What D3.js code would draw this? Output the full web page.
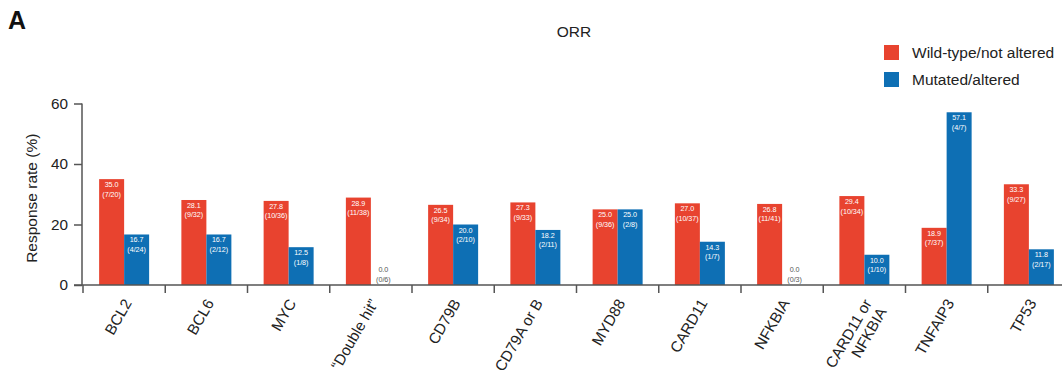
<!DOCTYPE html>
<html>
<head>
<meta charset="utf-8">
<script src="https://cdn.jsdelivr.net/npm/d3@7/dist/d3.min.js"></script>
<style>
  html, body { margin: 0; padding: 0; background: #fff; }
  svg { display: block; font-family: "Liberation Sans", Arial, Helvetica, sans-serif; }
</style>
</head>
<body>
<svg id="chart" width="1062" height="374"></svg>
<script>
// Genes / groups on the x axis (multi-line labels split on "\n")
const categories = ["BCL2", "BCL6", "MYC", "\u201CDouble hit\u201D", "CD79B", "CD79A or B",
  "MYD88", "CARD11", "NFKBIA", "CARD11 or\nNFKBIA", "TNFAIP3", "TP53"];

// Response rates (%) and responder counts
const wildTypeRate = [35.0, 28.1, 27.8, 28.9, 26.5, 27.3, 25.0, 27.0, 26.8, 29.4, 18.9, 33.3];
const wildTypeCount = ["7/20", "9/32", "10/36", "11/38", "9/34", "9/33", "9/36", "10/37", "11/41", "10/34", "7/37", "9/27"];
const mutatedRate = [16.7, 16.7, 12.5, 0.0, 20.0, 18.2, 25.0, 14.3, 0.0, 10.0, 57.1, 11.8];
const mutatedCount = ["4/24", "2/12", "1/8", "0/6", "2/10", "2/11", "2/8", "1/7", "0/3", "1/10", "4/7", "2/17"];

const seriesNames = ["Wild-type/not altered", "Mutated/altered"];
const yTicks = [0, 20, 40, 60];

const colors = ["#E8432F", "#0E6FB4"];
const axisColor = "#555";

const svg = d3.select("#chart");

const x = d3.scaleBand().domain(categories).range([83, 83 + 12 * 82.25]).padding(0);
const y = d3.scaleLinear().domain([0, 60]).range([285, 103.5]);
const barW = 25;

// Panel letter and title
svg.append("text").attr("x", 8).attr("y", 29)
  .attr("font-size", 25).attr("font-weight", "bold").attr("fill", "#111").text("A");
svg.append("text").attr("x", 574).attr("y", 37).attr("text-anchor", "middle")
  .attr("font-size", 15.5).attr("fill", "#222").text("ORR");

// Bars
const rows = categories.map((c, i) => ({
  cat: c,
  values: [
    { s: 0, v: wildTypeRate[i], n: wildTypeCount[i] },
    { s: 1, v: mutatedRate[i], n: mutatedCount[i] }
  ]
}));

const groups = svg.append("g").selectAll("g").data(rows).join("g")
  .attr("transform", d => `translate(${x(d.cat) + x.bandwidth() / 2 - barW},0)`);

groups.selectAll("rect").data(d => d.values).join("rect")
  .attr("x", d => d.s * barW)
  .attr("y", d => y(d.v))
  .attr("width", barW)
  .attr("height", d => y(0) - y(d.v))
  .attr("fill", d => colors[d.s]);

// Value labels: inside the bar, or above the axis when the rate is zero
const lab = groups.selectAll("text.val").data(d => d.values).join("text")
  .attr("class", "val")
  .attr("text-anchor", "middle")
  .attr("font-size", 7.2)
  .attr("fill", d => d.v > 0 ? "#fff" : "#555");
lab.append("tspan")
  .attr("x", d => d.s * barW + barW / 2)
  .attr("y", d => d.v > 0 ? y(d.v) + 8 : y(0) - 13)
  .text(d => d.v.toFixed(1));
lab.append("tspan")
  .attr("x", d => d.s * barW + barW / 2)
  .attr("y", d => d.v > 0 ? y(d.v) + 17.5 : y(0) - 3.5)
  .text(d => `(${d.n})`);

// Y axis
const yAxis = svg.append("g").attr("transform", "translate(82,0)")
  .call(d3.axisLeft(y).tickValues(yTicks).tickFormat(d3.format("d")).tickSize(8).tickPadding(6));
yAxis.select(".domain").attr("stroke", axisColor).attr("stroke-width", 1.5)
  .attr("d", `M0,${y(60)}V${y(0)}`);
yAxis.selectAll(".tick line").attr("stroke", axisColor).attr("stroke-width", 1.5);
yAxis.selectAll(".tick text").attr("font-size", 15.3).attr("fill", "#222")
  .attr("font-family", "Liberation Sans, Arial, sans-serif");

svg.append("text")
  .attr("transform", `translate(37,${(y(0) + y(60)) / 2 + 4}) rotate(-90)`)
  .attr("text-anchor", "middle").attr("font-size", 15.5).attr("fill", "#222")
  .text("Response rate (%)");

// X axis: baseline plus tick marks at band edges
const xg = svg.append("g");
xg.append("line").attr("x1", 74).attr("x2", 1062).attr("y1", y(0)).attr("y2", y(0))
  .attr("stroke", axisColor).attr("stroke-width", 1.5);
const edges = categories.map(c => x(c)).concat([x.range()[1]]);
xg.selectAll("line.edge").data(edges).join("line").attr("class", "edge")
  .attr("x1", d => d).attr("x2", d => d)
  .attr("y1", y(0)).attr("y2", y(0) + 8)
  .attr("stroke", axisColor).attr("stroke-width", 1.5);

// Rotated category labels
const xl = xg.selectAll("text.cat").data(categories).join("text").attr("class", "cat")
  .attr("transform", d => `translate(${x(d) + x.bandwidth() / 2 + 8},303) rotate(-60)`)
  .attr("text-anchor", "end").attr("font-size", 15.2).attr("fill", "#222");
xl.selectAll("tspan").data(d => d.split("\n")).join("tspan")
  .attr("x", 0).attr("y", (d, i) => i * 17).text(d => d);

// Legend
const lg = svg.append("g").attr("transform", "translate(884,45)");
const li = lg.selectAll("g").data(seriesNames).join("g")
  .attr("transform", (d, i) => `translate(0,${i * 27})`);
li.append("rect").attr("width", 15).attr("height", 15).attr("fill", (d, i) => colors[i]);
li.append("text").attr("x", 28).attr("y", 13).attr("font-size", 15.5).attr("fill", "#222").text(d => d);
</script>
</body>
</html>
